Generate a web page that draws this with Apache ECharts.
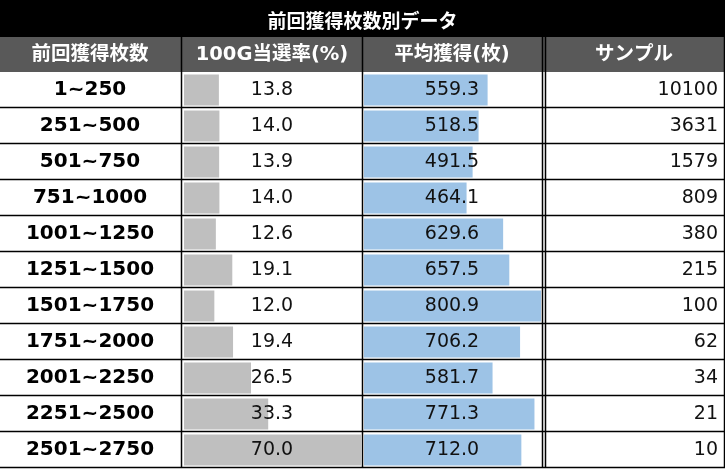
<!DOCTYPE html>
<html>
<head>
<meta charset="utf-8">
<script src="https://cdn.jsdelivr.net/npm/echarts@6/dist/echarts.min.js"></script>
<style>
  html, body { margin: 0; padding: 0; background: #fff; }
  #chart { width: 725px; height: 469px; }
</style>
</head>
<body>
<div id="chart"></div>
<script>
// data
const title = '前回獲得枚数別データ'
const headers = ['前回獲得枚数', '100G当選率(%)', '平均獲得(枚)', 'サンプル']
const ranges = ['1~250', '251~500', '501~750', '751~1000', '1001~1250', '1251~1500',
  '1501~1750', '1751~2000', '2001~2250', '2251~2500', '2501~2750']
const hitRate = [13.8, 14.0, 13.9, 14.0, 12.6, 19.1, 12.0, 19.4, 26.5, 33.3, 70.0]
const avgGain = [559.3, 518.5, 491.5, 464.1, 629.6, 657.5, 800.9, 706.2, 581.7, 771.3, 712.0]
const samples = [10100, 3631, 1579, 809, 380, 215, 100, 62, 34, 21, 10]

// table layout
const tableTop = 72
const rowH = 36
const bodyH = rowH * ranges.length
const colLines = [181.5, 362.5, 542.5, 545.5, 724.5]
const colCenters = [90, 272, 452, 634]
const numFont = 'DejaVu Sans, Noto Sans CJK JP'

const chart = echarts.init(document.getElementById('chart'))

const graphic = [
  { type: 'rect', shape: { x: 0, y: 0, width: 725, height: 37 }, style: { fill: '#000' }, z: 0 },
  { type: 'rect', shape: { x: 0, y: 37, width: 725, height: 35 }, style: { fill: '#595959' }, z: 0 }
]
headers.forEach((h, i) => {
  graphic.push({
    type: 'text', x: colCenters[i], y: 55, z: 20,
    style: {
      text: h, fill: '#fff', font: 'bold 19.5px ' + numFont,
      align: 'center', verticalAlign: 'middle'
    }
  })
})
for (let i = 1; i <= ranges.length; i++) {
  const y = tableTop + i * rowH - 0.5
  graphic.push({
    type: 'line', z: 20,
    shape: { x1: 0, y1: y, x2: 725, y2: y },
    style: { stroke: '#000', lineWidth: 1.5 }
  })
}
colLines.forEach(x => {
  graphic.push({
    type: 'line', z: 20,
    shape: { x1: x, y1: 37, x2: x, y2: tableTop + bodyH },
    style: { stroke: '#000', lineWidth: 1.5 }
  })
})

const catAxis = (gridIndex, data, extra) => Object.assign({
  type: 'category',
  gridIndex: gridIndex,
  inverse: true,
  data: data,
  z: 10,
  axisLine: { show: false },
  axisTick: { show: false },
  splitLine: { show: false }
}, extra)

const option = {
  animation: false,
  title: {
    text: title,
    left: 'center',
    top: 6,
    textStyle: { color: '#fff', fontSize: 19, fontWeight: 'bold', fontFamily: 'Noto Sans CJK JP' }
  },
  graphic: graphic,
  grid: [
    { left: 184, top: tableTop, width: 177, height: bodyH },
    { left: 364, top: tableTop, width: 177, height: bodyH }
  ],
  xAxis: [
    { type: 'value', gridIndex: 0, min: 0, max: Math.max(...hitRate), show: false },
    { type: 'value', gridIndex: 1, min: 0, max: Math.max(...avgGain), show: false }
  ],
  yAxis: [
    catAxis(0, ranges, {
      position: 'left',
      axisLabel: { margin: 94, align: 'center', color: '#000', fontSize: 20, fontWeight: 'bold', fontFamily: numFont }
    }),
    catAxis(0, hitRate.map(v => v.toFixed(1)), {
      position: 'right',
      offset: -89,
      axisLabel: { margin: 0, align: 'center', color: '#111', fontSize: 19, fontFamily: numFont }
    }),
    catAxis(1, avgGain.map(v => v.toFixed(1)), {
      position: 'left',
      offset: -88,
      axisLabel: { margin: 0, align: 'center', color: '#111', fontSize: 19, fontFamily: numFont }
    }),
    catAxis(1, samples.map(String), {
      position: 'right',
      axisLabel: { margin: 177, align: 'right', color: '#111', fontSize: 19, fontFamily: numFont }
    })
  ],
  series: [
    {
      name: '100G当選率',
      type: 'bar',
      xAxisIndex: 0,
      yAxisIndex: 0,
      barWidth: 31,
      itemStyle: { color: '#bfbfbf' },
      data: hitRate
    },
    {
      name: '平均獲得',
      type: 'bar',
      xAxisIndex: 1,
      yAxisIndex: 2,
      barWidth: 31,
      itemStyle: { color: '#9dc3e6' },
      data: avgGain
    }
  ]
}
chart.setOption(option)
</script>
</body>
</html>
